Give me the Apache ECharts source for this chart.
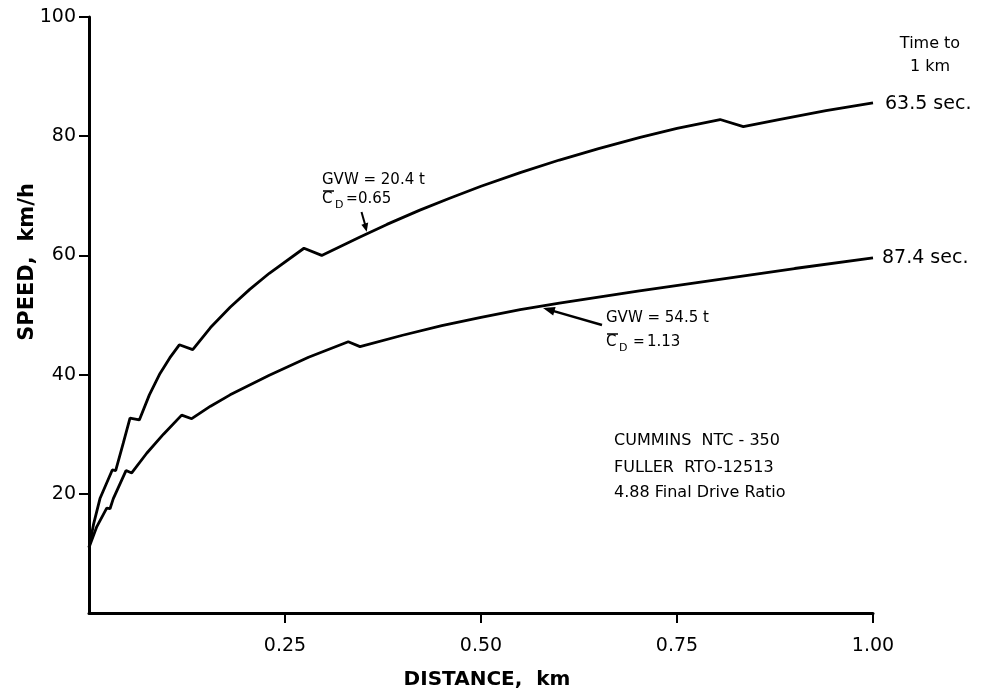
<!DOCTYPE html>
<html><head><meta charset="utf-8">
<script src="https://cdn.jsdelivr.net/npm/echarts@6/dist/echarts.min.js"></script>
<style>html,body{margin:0;padding:0;background:#fff}#c{width:985px;height:696px}</style>
</head><body><div id="c"></div>
<script>
// GVW = 20.4 t, Cd = 0.65
const distLight  = [0, 0.006, 0.014, 0.0297, 0.034, 0.0437, 0.0523, 0.0642, 0.077, 0.0906, 0.103, 0.1152, 0.1323, 0.155, 0.18, 0.205, 0.23, 0.2742, 0.2968, 0.3457, 0.38, 0.422, 0.46, 0.5, 0.55, 0.6, 0.65, 0.703, 0.75, 0.805, 0.8346, 0.88, 0.94, 1.0];
const speedLight = [11.0, 15.0, 19.2, 24.0, 23.9, 28.5, 32.7, 32.4, 36.6, 40.2, 42.8, 45.0, 44.2, 47.9, 51.3, 54.3, 57.0, 61.2, 60.0, 63.1, 65.2, 67.6, 69.6, 71.6, 73.9, 76.0, 77.9, 79.8, 81.3, 82.8, 81.6, 82.8, 84.3, 85.6];
// GVW = 54.5 t, Cd = 1.13
const distHeavy  = [0, 0.01, 0.0226, 0.0268, 0.031, 0.0472, 0.0545, 0.0736, 0.095, 0.1182, 0.131, 0.155, 0.18, 0.23, 0.28, 0.3307, 0.3457, 0.40, 0.45, 0.50, 0.55, 0.60, 0.70, 0.80, 0.90, 1.0];
const speedHeavy = [11.0, 14.5, 17.6, 17.5, 19.2, 23.9, 23.5, 26.8, 30.0, 33.2, 32.6, 34.7, 36.6, 39.9, 42.9, 45.5, 44.7, 46.6, 48.2, 49.6, 50.9, 52.0, 54.0, 55.9, 57.8, 59.6];
const xTicks = [0.25, 0.5, 0.75, 1.0];
const xTickLabels = ['0.25', '0.50', '0.75', '1.00'];
const yTicks = [20, 40, 60, 80, 100];
const endLabels = ['63.5 sec.', '87.4 sec.'];

const zip = (a, b) => a.map((v, i) => [v, b[i]]);
const FF = 'DejaVu Sans';
const chart = echarts.init(document.getElementById('c'), null, {renderer: 'canvas'});

function txt(text, x, y, size, align, vAlign, extra, weight) {
  return Object.assign({type: 'text', x: x, y: y, style: {text: text, fontFamily: FF, fontSize: size, fontWeight: weight || 'normal', fill: '#000', align: align || 'left', verticalAlign: vAlign || 'middle'}}, extra || {});
}

chart.setOption({
  animation: false,
  backgroundColor: '#fff',
  grid: {left: 89, right: 112, top: 17, bottom: 83},
  xAxis: {
    type: 'value', min: 0, max: 1, interval: 0.25,
    axisLine: {lineStyle: {color: '#000', width: 3}},
    axisTick: {show: true, length: 10, lineStyle: {color: '#000', width: 2}, customValues: xTicks},
    axisLabel: {customValues: xTicks, formatter: v => xTickLabels[xTicks.indexOf(v)] || '', fontFamily: FF, fontSize: 19, color: '#000', margin: 24},
    splitLine: {show: false}
  },
  yAxis: {
    type: 'value', min: 0, max: 100, interval: 20,
    axisLine: {show: true, lineStyle: {color: '#000', width: 3}},
    axisTick: {show: true, length: 10, lineStyle: {color: '#000', width: 2}, customValues: yTicks},
    axisLabel: {customValues: yTicks, fontFamily: FF, fontSize: 19, color: '#000', margin: 13},
    splitLine: {show: false}
  },
  series: [
    {type: 'line', data: zip(distLight, speedLight), showSymbol: false, symbol: 'none', lineStyle: {color: '#000', width: 2.8}, z: 3},
    {type: 'line', data: zip(distHeavy, speedHeavy), showSymbol: false, symbol: 'none', lineStyle: {color: '#000', width: 2.8}, z: 3}
  ],
  graphic: [
    txt('SPEED,  km/h', 28, 262, 21, 'center', 'middle', {rotation: Math.PI / 2}, 'bold'),
    txt('DISTANCE,  km', 487, 680, 20, 'center', 'middle', null, 'bold'),
    txt('Time to', 930, 44, 16, 'center', 'middle'),
    txt('1 km', 930, 67, 16, 'center', 'middle'),
    txt(endLabels[0], 885, 104, 19, 'left', 'middle'),
    txt(endLabels[1], 882, 258, 19, 'left', 'middle'),
    txt('CUMMINS  NTC - 350', 614, 441, 16, 'left', 'middle'),
    txt('FULLER  RTO-12513', 614, 468, 16, 'left', 'middle'),
    txt('4.88 Final Drive Ratio', 614, 493, 16, 'left', 'middle'),
    // upper annotation
    txt('GVW = 20.4 t', 322, 180, 15, 'left', 'middle'),
    txt('C', 322, 199, 15, 'left', 'middle'),
    txt('D', 335, 205, 11, 'left', 'middle'),
    txt('=', 346, 199, 14, 'left', 'middle'),
    txt('0.65', 358, 199, 15, 'left', 'middle'),
    {type: 'line', shape: {x1: 323, y1: 191, x2: 334, y2: 191}, style: {stroke: '#000', lineWidth: 1.5}},
    {type: 'line', shape: {x1: 361.5, y1: 212, x2: 365.5, y2: 226}, style: {stroke: '#000', lineWidth: 2}},
    {type: 'polygon', shape: {points: [[366.7, 231.7], [368.2, 222.5], [361.4, 224.7]]}, style: {fill: '#000'}},
    // lower annotation
    txt('GVW = 54.5 t', 606, 318, 15, 'left', 'middle'),
    txt('C', 606, 342, 15, 'left', 'middle'),
    txt('D', 619, 348, 11, 'left', 'middle'),
    txt('=', 633, 342, 14, 'left', 'middle'),
    txt('1.13', 647, 342, 15, 'left', 'middle'),
    {type: 'line', shape: {x1: 607, y1: 334, x2: 618, y2: 334}, style: {stroke: '#000', lineWidth: 1.5}},
    {type: 'line', shape: {x1: 602, y1: 325, x2: 552, y2: 310.6}, style: {stroke: '#000', lineWidth: 2.5}},
    {type: 'polygon', shape: {points: [[543, 308], [555.6, 306.9], [553.2, 315.5]]}, style: {fill: '#000'}}
  ]
});
</script></body></html>
